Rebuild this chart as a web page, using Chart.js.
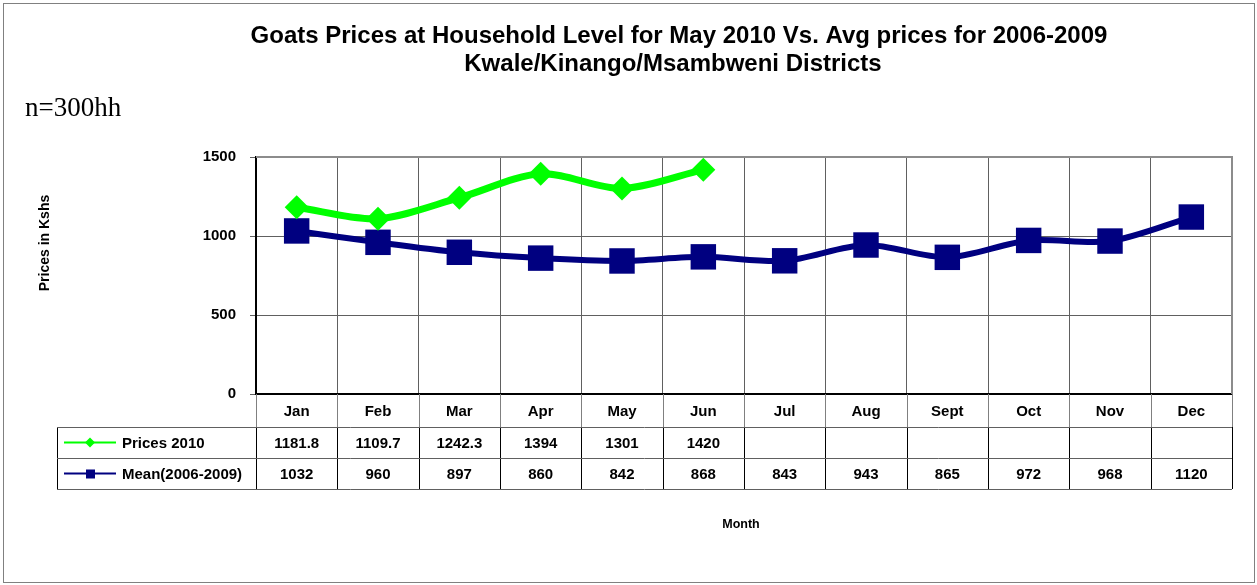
<!DOCTYPE html>
<html>
<head>
<meta charset="utf-8">
<script src="https://cdn.jsdelivr.net/npm/chart.js@4.4.1/dist/chart.umd.min.js"></script>
<style>
  html, body { margin: 0; padding: 0; background: #fff; }
  #wrap { width: 1257px; height: 585px; position: relative; }
</style>
</head>
<body>
<div id="wrap"><canvas id="chart" width="1257" height="585"></canvas></div>
<script>
const months = ["Jan", "Feb", "Mar", "Apr", "May", "Jun", "Jul", "Aug", "Sept", "Oct", "Nov", "Dec"];
const prices2010 = [1181.8, 1109.7, 1242.3, 1394, 1301, 1420, null, null, null, null, null, null];
const mean0609 = [1032, 960, 897, 860, 842, 868, 843, 943, 865, 972, 968, 1120];
const yTicks = [0, 500, 1000, 1500];

const titleLines = [
  "Goats Prices at Household Level for May 2010 Vs. Avg prices for 2006-2009",
  "Kwale/Kinango/Msambweni Districts",
];

const GREEN = "#00ff00";
const NAVY = "#000080";
const FONT = "Arial, 'Liberation Sans', sans-serif";

// rows of the data table under the plot
const rowTop = 394, rowMid1 = 427, rowMid2 = 458, rowBottom = 489;
const legendLeft = 57;

const extras = {
  id: "extras",
  beforeDatasetsDraw(chart) {
    // grey top and right edges of the plot, like the original
    const ctx = chart.ctx;
    const a = chart.chartArea;
    ctx.save();
    ctx.strokeStyle = "#8c8c8c";
    ctx.lineWidth = 2;
    ctx.beginPath();
    ctx.moveTo(a.left, a.top);
    ctx.lineTo(a.right, a.top);
    ctx.lineTo(a.right, a.bottom);
    ctx.stroke();
    ctx.restore();
  },
  afterDraw(chart) {
    const ctx = chart.ctx;
    const x = chart.scales.x;
    const area = chart.chartArea;
    const half = (x.getPixelForValue(1) - x.getPixelForValue(0)) / 2;

    ctx.save();

    // outer frame
    ctx.strokeStyle = "#808080";
    ctx.lineWidth = 1;
    ctx.strokeRect(3.5, 3.5, 1251, 579);

    // title
    ctx.fillStyle = "#000";
    ctx.textAlign = "center";
    ctx.textBaseline = "middle";
    ctx.font = "bold 24px " + FONT;
    ctx.fillText(titleLines[0], 679, 36);
    ctx.fillText(titleLines[1], 673, 64);

    // n note
    ctx.textAlign = "left";
    ctx.font = "27px 'Liberation Serif', 'Times New Roman', serif";
    ctx.fillText("n=300hh", 25, 109);

    // y axis title
    ctx.save();
    ctx.translate(45, 243);
    ctx.rotate(-Math.PI / 2);
    ctx.textAlign = "center";
    ctx.font = "bold 14px " + FONT;
    ctx.fillText("Prices in Kshs", 0, 0);
    ctx.restore();

    // x axis title
    ctx.textAlign = "center";
    ctx.font = "bold 12.5px " + FONT;
    ctx.fillText("Month", 741, 525);

    // table grid
    ctx.lineWidth = 1;
    ctx.strokeStyle = "#808080";
    for (let i = 0; i <= months.length; i++) {
      const px = Math.round(x.getPixelForValue(i) - half) + 0.5;
      ctx.beginPath();
      ctx.moveTo(px, rowTop);
      ctx.lineTo(px, rowMid1);
      ctx.stroke();
    }
    ctx.strokeStyle = "#000";
    for (let i = 0; i <= months.length; i++) {
      const px = Math.round(x.getPixelForValue(i) - half) + 0.5;
      ctx.beginPath();
      ctx.moveTo(px, rowMid1);
      ctx.lineTo(px, rowBottom);
      ctx.stroke();
    }
    ctx.beginPath();
    ctx.moveTo(legendLeft + 0.5, rowMid1);
    ctx.lineTo(legendLeft + 0.5, rowBottom);
    ctx.stroke();
    ctx.strokeStyle = "#606060";
    [rowMid1, rowMid2, rowBottom].forEach((yy) => {
      ctx.beginPath();
      ctx.moveTo(legendLeft, yy + 0.5);
      ctx.lineTo(area.right, yy + 0.5);
      ctx.stroke();
    });

    // table texts
    ctx.fillStyle = "#000";
    ctx.font = "bold 15px " + FONT;
    ctx.textAlign = "center";
    const yHead = (rowTop + rowMid1) / 2 + 1;
    const y1 = (rowMid1 + rowMid2) / 2 + 1;
    const y2 = (rowMid2 + rowBottom) / 2 + 1;
    months.forEach((m, i) => {
      const cx = x.getPixelForValue(i);
      ctx.fillText(m, cx, yHead);
      if (prices2010[i] !== null) ctx.fillText(String(prices2010[i]), cx, y1);
      ctx.fillText(String(mean0609[i]), cx, y2);
    });

    // legend keys
    ctx.textAlign = "left";
    ctx.fillText("Prices 2010", 122, y1);
    ctx.fillText("Mean(2006-2009)", 122, y2);

    ctx.lineWidth = 2;
    ctx.strokeStyle = GREEN;
    ctx.beginPath();
    ctx.moveTo(64, y1 - 1);
    ctx.lineTo(116, y1 - 1);
    ctx.stroke();
    ctx.fillStyle = GREEN;
    ctx.beginPath();
    ctx.moveTo(90, y1 - 6);
    ctx.lineTo(95, y1 - 1);
    ctx.lineTo(90, y1 + 4);
    ctx.lineTo(85, y1 - 1);
    ctx.closePath();
    ctx.fill();

    ctx.strokeStyle = NAVY;
    ctx.beginPath();
    ctx.moveTo(64, y2 - 1);
    ctx.lineTo(116, y2 - 1);
    ctx.stroke();
    ctx.fillStyle = NAVY;
    ctx.fillRect(86, y2 - 5, 9, 9);

    ctx.restore();
  },
};

new Chart(document.getElementById("chart"), {
  type: "line",
  data: {
    labels: months,
    datasets: [
      {
        label: "Prices 2010",
        data: prices2010,
        borderColor: GREEN,
        backgroundColor: GREEN,
        borderWidth: 7,
        pointStyle: "rectRot",
        pointRadius: 12,
        pointHoverRadius: 12,
        pointBorderWidth: 0,
        tension: 0.3,
        spanGaps: false,
      },
      {
        label: "Mean(2006-2009)",
        data: mean0609,
        borderColor: NAVY,
        backgroundColor: NAVY,
        borderWidth: 6,
        pointStyle: "rect",
        pointRadius: 18,
        pointHoverRadius: 18,
        pointBorderWidth: 0,
        tension: 0.3,
      },
    ],
  },
  options: {
    responsive: false,
    animation: false,
    events: [],
    layout: { padding: { top: 157, left: 0, right: 25, bottom: 0 } },
    plugins: {
      legend: { display: false },
      title: { display: false },
      tooltip: { enabled: false },
    },
    scales: {
      x: {
        offset: true,
        grid: { color: "#606060", lineWidth: 1, drawTicks: false, offset: true },
        border: { color: "#000", width: 2 },
        ticks: { display: false },
        afterFit(scale) { scale.height = 191; },
      },
      y: {
        min: 0,
        max: 1500,
        afterBuildTicks(scale) { scale.ticks = yTicks.map((v) => ({ value: v })); },
        grid: { color: "#606060", lineWidth: 1, tickLength: 6 },
        border: { color: "#000", width: 2 },
        ticks: {
          color: "#000",
          padding: 14,
          font: { family: FONT, size: 15, weight: "bold" },
          callback: (v) => String(v),
        },
        afterFit(scale) { scale.width = 256; },
      },
    },
  },
  plugins: [extras],
});
</script>
</body>
</html>
